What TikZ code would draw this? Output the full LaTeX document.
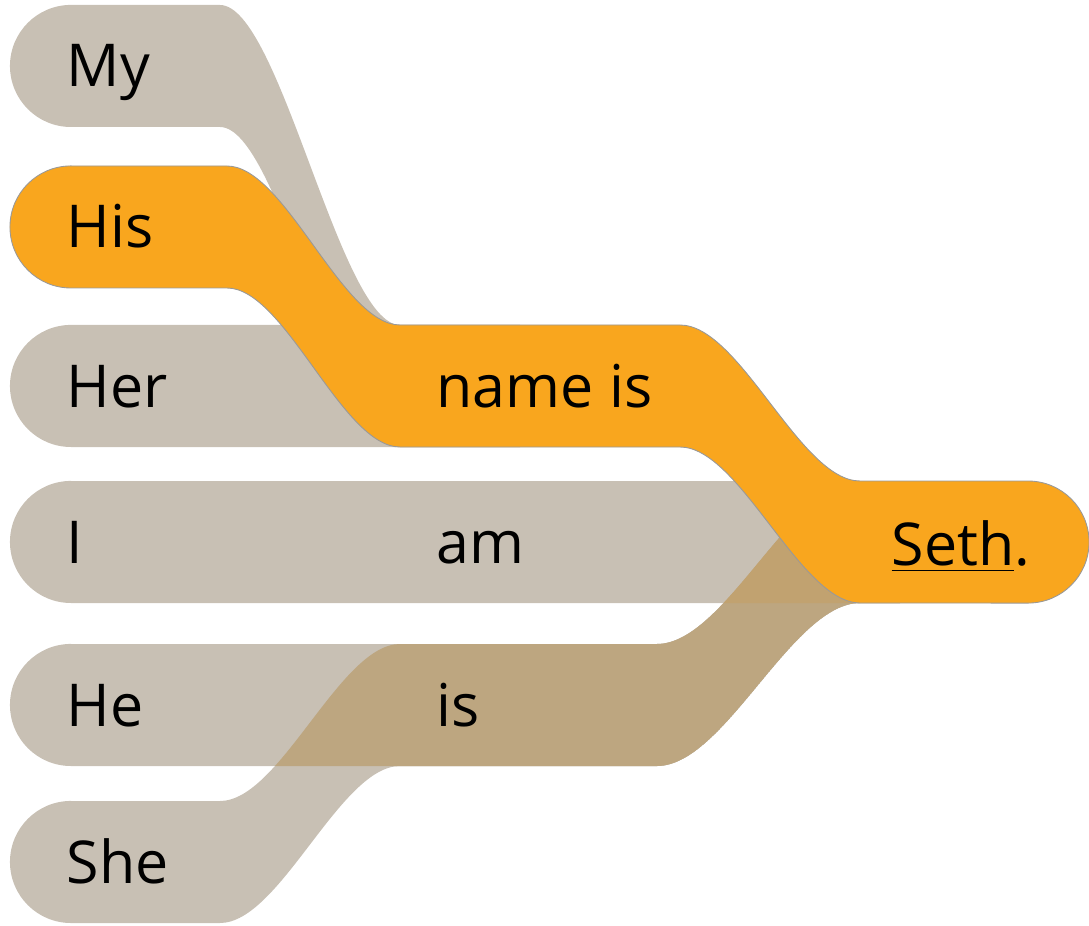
\documentclass[tikz,border=0pt]{standalone}
\usepackage{fontspec}
\setmainfont{Open Sans}
\usetikzlibrary{calc}

\definecolor{bandgray}{RGB}{200,192,180}
\definecolor{hisorange}{RGB}{249,166,30}
\definecolor{istan}{RGB}{189,166,128}
\definecolor{amtan}{RGB}{193,162,112}

\tikzset{
  band/.style={fill=bandgray},
  hisband/.style={fill=hisorange, draw=black!40, line width=0.25pt},
  word/.style={anchor=base west, inner sep=0pt, font=\fontsize{16.8}{20}\selectfont},
}

% band outlines, in pixel units (y grows downward)
\newcommand{\MyBand}{(71,5) -- (220,5) .. controls (280,5) and (340,325) .. (400,325) -- (520,325) -- (520,447) -- (400,447) .. controls (340,447) and (280,127) .. (220,127) -- (71,127) arc[start angle=270, end angle=90, radius=0.61cm] -- cycle}
\newcommand{\HisBand}{(71,166) -- (227,166) .. controls (285,166) and (342,325) .. (400,325) -- (680,325) .. controls (740,325) and (800,481) .. (860,481) -- (1028,481) arc[start angle=90, end angle=-90, radius=0.61cm] -- (860,603) .. controls (800,603) and (740,447) .. (680,447) -- (400,447) .. controls (342,447) and (285,288) .. (227,288) -- (71,288) arc[start angle=270, end angle=90, radius=0.61cm] -- cycle}
\newcommand{\HerBand}{(71,325) -- (520,325) -- (520,447) -- (71,447) arc[start angle=270, end angle=90, radius=0.61cm] -- cycle}
\newcommand{\IBand}{(71,481) -- (860,481) -- (860,603) -- (71,603) arc[start angle=270, end angle=90, radius=0.61cm] -- cycle}
\newcommand{\HeBand}{(71,644) -- (657,644) .. controls (725,644) and (792,481) .. (860,481) -- (900,481) -- (900,603) -- (860,603) .. controls (792,603) and (725,766) .. (657,766) -- (71,766) arc[start angle=270, end angle=90, radius=0.61cm] -- cycle}
\newcommand{\SheBand}{(71,801) -- (220,801) .. controls (280,801) and (340,644) .. (400,644) -- (657,644) .. controls (725,644) and (792,481) .. (860,481) -- (900,481) -- (900,603) -- (860,603) .. controls (792,603) and (725,766) .. (657,766) -- (400,766) .. controls (340,766) and (280,923) .. (220,923) -- (71,923) arc[start angle=270, end angle=90, radius=0.61cm] -- cycle}

\begin{document}
\begin{tikzpicture}[x=0.01cm, y=-0.01cm]
\useasboundingbox (0,0) rectangle (1089,925);

% gray bands
\fill[band] \MyBand;
\fill[band] \HerBand;
\fill[band] \IBand;
\fill[band] \HeBand;
\fill[band] \SheBand;

% where He and She run together
\begin{scope}
  \clip \HeBand;
  \fill[istan] \SheBand;
\end{scope}
\begin{scope}
  \clip \IBand;
  \clip \HeBand;
  \fill[amtan] \SheBand;
\end{scope}

% the chosen path
\filldraw[hisband] \HisBand;

% words
\node[word] (my) at (66,87) {My};
\node[word] (his) at (66,248) {His};
\node[word] (her) at (66,408) {Her};
\node[word] (i) at (66,563) {I};
\node[word] (he) at (66,726) {He};
\node[word] (she) at (66,883) {She};
\node[word] (nameis) at (436,408) {name is};
\node[word] (am) at (436,563) {am};
\node[word] (is) at (436,726) {is};
\node[word] (seth) at (891,565) {\underline{Seth}.};

\end{tikzpicture}
\end{document}
